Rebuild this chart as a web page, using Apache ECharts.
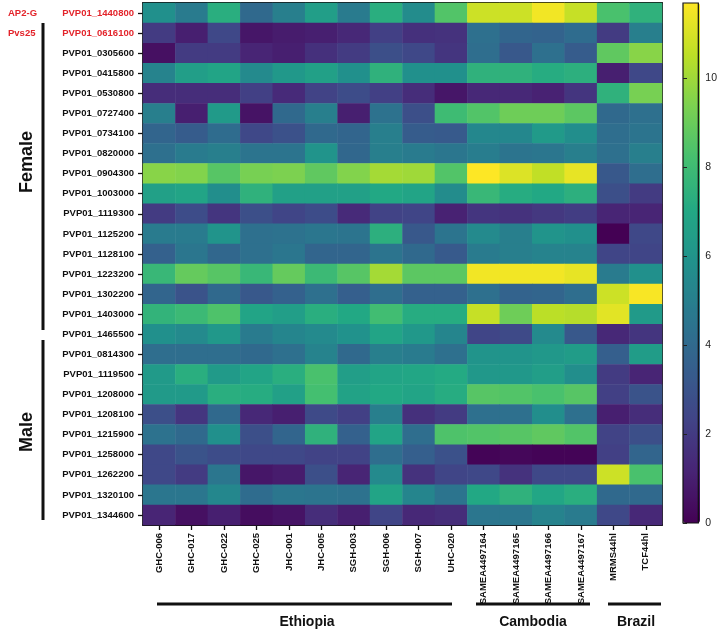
<!DOCTYPE html>
<html>
<head>
<meta charset="utf-8">
<script src="https://cdn.jsdelivr.net/npm/echarts@6/dist/echarts.min.js"></script>
<style>html,body{margin:0;padding:0;background:#fff}#c{width:720px;height:644px}</style>
</head>
<body>
<div id="c"></div>
<script>
const genes = ['PVP01_1440800','PVP01_0616100','PVP01_0305600','PVP01_0415800','PVP01_0530800','PVP01_0727400','PVP01_0734100','PVP01_0820000','PVP01_0904300','PVP01_1003000','PVP01_1119300','PVP01_1125200','PVP01_1128100','PVP01_1223200','PVP01_1302200','PVP01_1403000','PVP01_1465500','PVP01_0814300','PVP01_1119500','PVP01_1208000','PVP01_1208100','PVP01_1215900','PVP01_1258000','PVP01_1262200','PVP01_1320100','PVP01_1344600'];
const samples = ['GHC-006','GHC-017','GHC-022','GHC-025','JHC-001','JHC-005','SGH-003','SGH-006','SGH-007','UHC-020','SAMEA4497164','SAMEA4497165','SAMEA4497166','SAMEA4497167','MRMS44hl','TCF44hl'];
const redGenes = ['PVP01_1440800','PVP01_0616100'];
const colorTicks = [0,2,4,6,8,10];
const colorMin = 0;
const colorMax = 11.7;
const rowValues = [
 [5.8,4.8,7.3,4.0,5.0,6.5,4.8,7.3, 5.6,8.5,10.8,10.8,11.5,10.7,8.3,7.5],
 [2.0,1.0,2.5,0.7,0.9,1.0,1.3,2.2, 1.6,1.7,4.3,3.8,3.7,4.1,2.0,5.0],
 [0.5,2.0,2.0,1.2,1.0,1.6,2.0,2.8, 2.5,1.8,4.2,3.2,4.3,3.4,8.8,9.6],
 [5.2,6.5,6.8,5.5,6.2,6.6,5.8,7.5, 5.8,5.8,7.5,7.5,7.2,7.4,1.0,2.5],
 [1.5,1.5,1.5,2.2,1.4,2.3,2.7,2.2, 1.5,0.7,1.3,1.3,1.1,1.8,7.5,9.3],
 [5.0,1.0,6.3,0.6,4.0,5.0,1.0,4.4, 2.8,8.0,8.5,9.1,9.1,8.7,4.0,4.3],
 [3.8,3.4,4.1,2.5,2.9,4.0,3.8,5.0, 3.4,3.3,5.4,5.4,6.3,5.7,4.2,4.5],
 [4.3,4.8,5.0,4.5,4.5,6.0,3.9,5.0, 4.8,4.6,4.9,4.5,4.6,5.0,4.3,5.0],
 [9.6,9.5,8.6,9.3,9.4,8.8,9.5,10.1, 10.0,8.5,11.7,11.1,10.6,11.3,3.2,4.2],
 [6.6,6.8,5.7,7.5,6.6,6.6,6.6,7.0, 6.8,5.6,7.8,7.2,7.0,7.4,2.8,2.0],
 [2.0,2.7,1.8,2.8,2.4,2.7,1.4,2.3, 2.4,1.1,1.8,1.7,1.9,2.1,1.2,1.2],
 [4.8,4.8,6.0,4.3,4.4,4.6,4.5,7.4, 3.2,4.5,5.5,5.0,6.0,5.8,0.0,2.5],
 [3.6,4.6,3.9,4.3,4.6,3.8,3.8,4.5, 4.0,3.3,4.8,5.0,5.2,5.2,2.4,2.4],
 [7.8,8.9,8.6,7.8,8.9,7.9,8.6,10.1, 8.7,8.7,11.5,11.5,11.5,11.3,4.8,5.8],
 [3.8,3.0,4.0,3.2,3.6,4.3,3.5,4.2, 3.6,3.6,4.3,3.7,3.8,4.2,10.8,11.6],
 [7.6,7.9,8.4,6.8,6.5,7.3,7.0,8.1, 7.2,7.2,10.7,9.1,10.5,10.4,11.2,6.3],
 [5.8,5.5,6.2,4.8,5.3,5.5,5.9,6.8, 6.2,5.3,2.4,2.6,5.5,3.2,1.3,1.8],
 [4.2,4.2,4.2,4.0,4.3,5.2,4.0,5.0, 4.8,4.3,6.0,6.0,6.2,6.4,3.5,6.4],
 [6.3,7.3,6.3,6.8,7.3,8.3,6.5,6.8, 6.9,7.1,6.2,6.2,6.5,5.7,2.0,1.2],
 [6.3,6.3,7.3,7.2,6.6,8.2,6.7,7.0, 6.8,7.2,8.6,8.5,8.3,8.6,2.2,3.0],
 [2.8,1.8,4.0,1.3,1.0,2.6,2.2,5.0, 1.6,2.0,4.3,4.3,5.7,4.3,1.0,1.5],
 [4.4,4.0,5.8,2.8,3.8,7.5,3.6,6.8, 4.2,8.4,8.5,8.6,8.8,8.5,2.3,2.8],
 [2.5,3.0,2.7,2.5,2.5,2.3,2.3,4.2, 3.5,2.9,0.1,0.2,0.1,0.1,2.2,3.8],
 [2.5,2.0,4.6,0.7,0.9,2.8,1.2,5.5, 1.7,2.4,2.5,1.7,2.5,2.5,10.8,8.3],
 [4.6,4.6,5.4,4.1,4.6,4.5,4.4,6.8, 5.3,4.5,7.0,7.5,6.9,7.3,4.0,4.0],
 [1.2,0.5,1.0,0.4,0.6,1.5,1.0,2.4, 1.3,1.5,4.6,4.6,5.2,4.8,2.5,1.3]
];

const viridis = ['#440154','#482475','#414487','#355f8d','#2a788e','#21918c','#22a884','#44bf70','#7ad151','#bddf26','#fde725'];
const FONT = '"Liberation Sans", Arial, Helvetica, sans-serif';
const RED = '#e3242b';

const data = [];
rowValues.forEach((row, r) => row.forEach((v, c) => data.push([c, r, v])));

const chart = echarts.init(document.getElementById('c'), null, {renderer: 'canvas'});
const lineStyle = {color: '#111', width: 1.8};

chart.setOption({
  animation: false,
  backgroundColor: '#fff',
  grid: [
    {left: 143, right: 58, top: 3, bottom: 119, containLabel: false},
    {left: 683, top: 3, width: 17, height: 520, containLabel: false, show: true, z: 10,
     backgroundColor: 'transparent', borderColor: '#111', borderWidth: 1.2}
  ],
  xAxis: [
    {type: 'category', data: samples, gridIndex: 0, position: 'bottom',
     axisLine: {show: true, lineStyle}, axisTick: {show: true, alignWithLabel: true, length: 5, lineStyle: {color: '#111', width: 1.3}},
     axisLabel: {rotate: 90, margin: 8, fontSize: 9.5, fontWeight: 'bold', color: '#111', fontFamily: FONT, interval: 0},
     splitLine: {show: false}},
    {type: 'category', data: samples, gridIndex: 0, position: 'top',
     axisLine: {show: true, lineStyle}, axisTick: {show: false}, axisLabel: {show: false}},
    {type: 'value', gridIndex: 1, show: false, min: 0, max: 1}
  ],
  yAxis: [
    {type: 'category', data: genes, gridIndex: 0, inverse: true, position: 'left',
     axisLine: {show: true, lineStyle}, axisTick: {show: true, alignWithLabel: true, length: 5, lineStyle: {color: '#111', width: 1.3}},
     axisLabel: {margin: 9, fontSize: 9.5, fontWeight: 'bold', fontFamily: FONT, interval: 0,
       color: (v) => redGenes.includes(v) ? RED : '#111'},
     splitLine: {show: false}},
    {type: 'category', data: genes, gridIndex: 0, inverse: true, position: 'right',
     axisLine: {show: true, lineStyle}, axisTick: {show: false}, axisLabel: {show: false}},
    {type: 'value', gridIndex: 1, min: colorMin, max: colorMax, interval: 2, position: 'right', z: 11,
     axisLine: {show: false}, splitLine: {show: false},
     axisTick: {show: true, length: 4, lineStyle: {color: '#222', width: 1}},
     axisLabel: {margin: 7, fontSize: 10.5, color: '#222', fontFamily: FONT, showMaxLabel: false,
       formatter: (v) => colorTicks.includes(v) ? String(v) : ''}}
  ],
  visualMap: {
    type: 'continuous', min: colorMin, max: colorMax, dimension: 2, seriesIndex: 0,
    orient: 'vertical', left: 683, top: 3, itemWidth: 17, itemHeight: 520,
    padding: 0, calculable: false, text: null,
    inRange: {color: viridis}, textStyle: {color: 'transparent'}
  },
  series: [{
    type: 'heatmap', xAxisIndex: 0, yAxisIndex: 0, data: data,
    itemStyle: {borderWidth: 0}, emphasis: {disabled: true}
  }],
  graphic: [
    {type: 'text', left: 8, top: 8, style: {text: 'AP2-G', fill: RED, font: 'bold 9.5px ' + FONT}},
    {type: 'text', left: 8, top: 28, style: {text: 'Pvs25', fill: RED, font: 'bold 9.5px ' + FONT}},
    {type: 'line', shape: {x1: 43, y1: 23, x2: 43, y2: 330}, style: {stroke: '#111', lineWidth: 3}},
    {type: 'line', shape: {x1: 43, y1: 340, x2: 43, y2: 520}, style: {stroke: '#111', lineWidth: 3}},
    {type: 'text', x: 27, y: 162, rotation: Math.PI / 2, style: {text: 'Female', fill: '#111', font: 'bold 18px ' + FONT, align: 'center', verticalAlign: 'middle'}},
    {type: 'text', x: 27, y: 432, rotation: Math.PI / 2, style: {text: 'Male', fill: '#111', font: 'bold 18px ' + FONT, align: 'center', verticalAlign: 'middle'}},
    {type: 'line', shape: {x1: 157, y1: 604, x2: 452, y2: 604}, style: {stroke: '#111', lineWidth: 3}},
    {type: 'line', shape: {x1: 476, y1: 604, x2: 590, y2: 604}, style: {stroke: '#111', lineWidth: 3}},
    {type: 'line', shape: {x1: 608, y1: 604, x2: 661, y2: 604}, style: {stroke: '#111', lineWidth: 3}},
    {type: 'text', x: 307, y: 622, style: {text: 'Ethiopia', fill: '#111', font: 'bold 14px ' + FONT, align: 'center', verticalAlign: 'middle'}},
    {type: 'text', x: 533, y: 622, style: {text: 'Cambodia', fill: '#111', font: 'bold 14px ' + FONT, align: 'center', verticalAlign: 'middle'}},
    {type: 'text', x: 636, y: 622, style: {text: 'Brazil', fill: '#111', font: 'bold 14px ' + FONT, align: 'center', verticalAlign: 'middle'}}
  ]
});
</script>
</body>
</html>
